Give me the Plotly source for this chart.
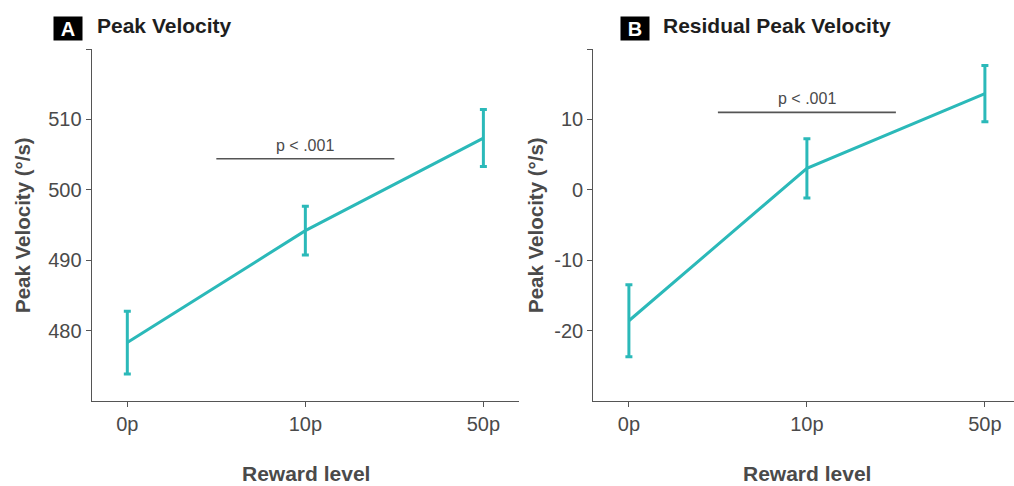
import plotly.graph_objects as go

# Reward conditions
reward_levels = ["0p", "10p", "50p"]
x_pos = [1, 2, 3]

# Panel A: peak velocity (deg/s), mean and SEM
peak_mean = [478.3, 494.2, 507.35]
peak_sem = [4.45, 3.45, 4.05]

# Panel B: residual peak velocity (deg/s), mean and SEM
resid_mean = [-18.6, 3.05, 13.65]
resid_sem = [5.1, 4.2, 4.0]

# Significance annotations (x span, height)
sig_span = [1.5, 2.5]
sig_y_a = 504.4
sig_y_b = 11.0
sig_text = "p < .001"

TEAL = "#2bb9b9"
AXIS = "#555555"
TEXT = "#4a4a4a"
FONT = "Liberation Sans, Arial, sans-serif"

W, H = 1014, 486

fig = go.Figure()

for mean, sem, xa, ya in [(peak_mean, peak_sem, "x", "y"),
                          (resid_mean, resid_sem, "x2", "y2")]:
    fig.add_trace(go.Scatter(
        x=x_pos, y=mean, mode="lines",
        line=dict(color=TEAL, width=3),
        error_y=dict(type="data", array=sem, visible=True,
                     color=TEAL, thickness=3, width=3.5),
        xaxis=xa, yaxis=ya, showlegend=False, hoverinfo="skip"))

# significance bars
fig.add_trace(go.Scatter(x=sig_span, y=[sig_y_a, sig_y_a], mode="lines",
                         line=dict(color=AXIS, width=1.6),
                         xaxis="x", yaxis="y", showlegend=False))
fig.add_trace(go.Scatter(x=sig_span, y=[sig_y_b, sig_y_b], mode="lines",
                         line=dict(color=AXIS, width=1.6),
                         xaxis="x2", yaxis="y2", showlegend=False))

def px_x(p):
    return p / W

def px_y(p):
    return 1 - p / H

y_dom = [px_y(401), px_y(49)]

axis_common = dict(showline=True, linecolor=AXIS, linewidth=1.3,
                   ticks="outside", ticklen=5, tickcolor=AXIS, tickwidth=1.2,
                   showgrid=False, zeroline=False,
                   tickfont=dict(family=FONT, size=20, color=TEXT))

fig.update_layout(
    width=W, height=H,
    margin=dict(l=0, r=0, t=0, b=0),
    paper_bgcolor="white", plot_bgcolor="white",
    xaxis=dict(domain=[px_x(91.7), px_x(519)], range=[0.8, 3.2],
               tickvals=x_pos, ticktext=reward_levels, anchor="y",
               **axis_common),
    yaxis=dict(domain=y_dom, range=[470, 520],
               tickvals=[480, 490, 500, 510, 520],
               ticktext=["480", "490", "500", "510", ""], anchor="x",
               **axis_common),
    xaxis2=dict(domain=[px_x(593.3), 1.0],
                range=[0.8, 0.8 + (W - 593.3) / 178.0],
                tickvals=x_pos, ticktext=reward_levels, anchor="y2",
                **axis_common),
    yaxis2=dict(domain=y_dom, range=[-30, 20],
                tickvals=[-20, -10, 0, 10, 20],
                ticktext=["-20", "-10", "0", "10", ""], anchor="x2",
                **axis_common),
)

annotations = []
# significance text
annotations.append(dict(x=2, y=sig_y_a, xref="x", yref="y", text=sig_text,
                        showarrow=False, yanchor="bottom", yshift=3,
                        font=dict(family=FONT, size=16, color=TEXT)))
annotations.append(dict(x=2, y=sig_y_b, xref="x2", yref="y2", text=sig_text,
                        showarrow=False, yanchor="bottom", yshift=3,
                        font=dict(family=FONT, size=16, color=TEXT)))

# panel letters and titles
for letter, lx, title, tx in [("A", 68, "Peak Velocity", 95),
                              ("B", 635, "Residual Peak Velocity", 661)]:
    annotations.append(dict(x=px_x(lx), y=px_y(28.5), xref="paper", yref="paper",
                            text="<b>%s</b>" % letter, showarrow=False,
                            bgcolor="black", borderpad=1,
                            xanchor="center", yanchor="middle",
                            width=26, height=21,
                            font=dict(family=FONT, size=20, color="white")))
    annotations.append(dict(x=px_x(tx), y=px_y(26), xref="paper", yref="paper",
                            text="<b>%s</b>" % title, showarrow=False,
                            xanchor="left", yanchor="middle",
                            font=dict(family=FONT, size=21, color="#1e1e1e")))

# axis titles
for cx in [305.5, 807.3]:
    annotations.append(dict(x=px_x(cx), y=px_y(473), xref="paper", yref="paper",
                            text="<b>Reward level</b>", showarrow=False,
                            xanchor="center", yanchor="middle",
                            font=dict(family=FONT, size=21, color=TEXT)))
for cx in [22, 535]:
    annotations.append(dict(x=px_x(cx), y=px_y(225), xref="paper", yref="paper",
                            text="<b>Peak Velocity (°/s)</b>", showarrow=False,
                            textangle=-90, xanchor="center", yanchor="middle",
                            font=dict(family=FONT, size=20.5, color=TEXT)))

fig.update_layout(annotations=annotations)

fig.write_html("out.html")
